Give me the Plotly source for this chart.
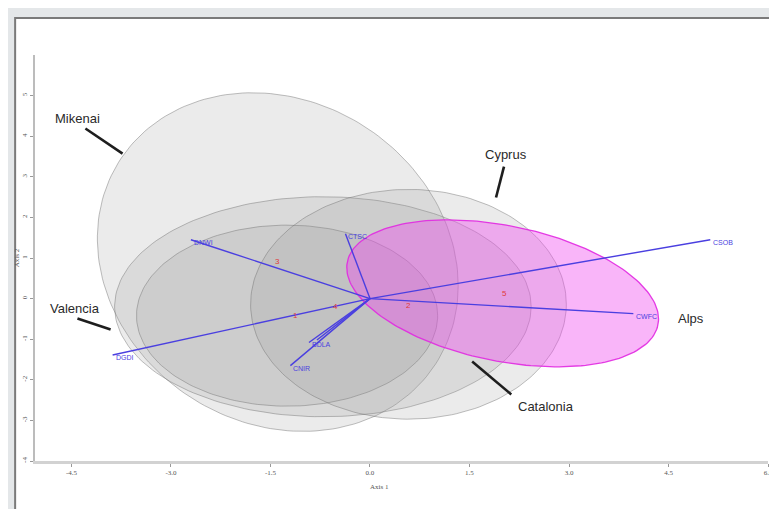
import numpy as np
import plotly.graph_objects as go

# ---------------- data ----------------
# group confidence ellipses: centre, spread (x, y) and correlation
groups = ["Mikenai", "Catalonia", "Valencia", "Cyprus", "Alps"]
ell_cx = [-1.39, -0.71, -1.25, 0.58, 2.00]
ell_cy = [0.90, -0.20, -0.42, -0.14, 0.13]
ell_sx = [2.72, 3.14, 2.27, 2.38, 2.35]
ell_sy = [4.17, 2.71, 2.23, 2.83, 1.81]
ell_rho = [-0.14, 0.0, 0.0, 0.0, -0.35]

# variable loading vectors (biplot)
var_names = ["DNWI", "CTSC", "CSOB", "CWFC", "DGDI", "BDLA", "", "CNIR"]
var_x = [-2.70, -0.37, 5.13, 3.97, -3.88, -0.92, -0.80, -1.20]
var_y = [1.45, 1.60, 1.45, -0.37, -1.39, -1.08, -1.02, -1.65]

# group centroids (red numbers)
cent_lab = ["3", "1", "4", "2", "5"]
cent_x = [-1.39, -1.12, -0.52, 0.58, 2.03]
cent_y = [0.91, -0.42, -0.20, -0.16, 0.13]

# group name callouts: text position, leader line start and end
lab_text = ["Mikenai", "Cyprus", "Valencia", "Alps", "Catalonia"]
lab_x = [-4.41, 2.05, -4.44, 4.84, 2.65]
lab_y = [4.43, 3.55, -0.25, -0.49, -2.66]
lead_x0 = [-4.29, 2.02, -4.41, None, 2.13]
lead_y0 = [4.19, 3.25, -0.49, None, -2.36]
lead_x1 = [-3.73, 1.90, -3.91, None, 1.54]
lead_y1 = [3.57, 2.49, -0.76, None, -1.55]

xticks = [-4.5, -3.0, -1.5, 0.0, 1.5, 3.0, 4.5, 6.0]
xtick_text = ["-4.5", "-3.0", "-1.5", "0.0", "1.5", "3.0", "4.5", "6.0"]
yticks = [-4, -3, -2, -1, 0, 1, 2, 3, 4, 5]
ytick_text = [str(v) for v in yticks]

# ---------------- figure ----------------
fig = go.Figure()
t = np.linspace(0, 2 * np.pi, 200)
for i, g in enumerate(groups):
    r = ell_rho[i]
    ex = ell_cx[i] + ell_sx[i] * np.cos(t)
    ey = ell_cy[i] + ell_sy[i] * (r * np.cos(t) + np.sqrt(1 - r * r) * np.sin(t))
    if g == "Alps":
        fill, line, lw = "rgba(240,70,240,0.40)", "rgba(225,40,225,0.9)", 1.3
    else:
        fill, line, lw = "rgba(150,150,150,0.19)", "rgba(110,110,110,0.45)", 1
    fig.add_trace(go.Scatter(x=ex, y=ey, mode="lines", fill="toself",
                             fillcolor=fill, line=dict(color=line, width=lw),
                             hoverinfo="skip", showlegend=False))

for i, n in enumerate(var_names):
    fig.add_trace(go.Scatter(x=[0, var_x[i]], y=[0, var_y[i]], mode="lines",
                             line=dict(color="#4a3fe0", width=1.4),
                             hoverinfo="skip", showlegend=False))
    if n:
        fig.add_annotation(x=var_x[i], y=var_y[i], text=n, showarrow=False,
                           xanchor="left", yanchor="top", xshift=1, yshift=3,
                           font=dict(family="Liberation Sans", size=7, color="#4a3fe0"))

for i, c in enumerate(cent_lab):
    fig.add_annotation(x=cent_x[i], y=cent_y[i], text=c, showarrow=False,
                       font=dict(family="Liberation Sans", size=8, color="#e03a3a"))

for i, s in enumerate(lab_text):
    fig.add_annotation(x=lab_x[i], y=lab_y[i], text=s, showarrow=False,
                       font=dict(family="Liberation Sans", size=13, color="#2a2a2a"))
    if lead_x0[i] is not None:
        fig.add_trace(go.Scatter(x=[lead_x0[i], lead_x1[i]], y=[lead_y0[i], lead_y1[i]],
                                 mode="lines", line=dict(color="#1e1e1e", width=2.6),
                                 hoverinfo="skip", showlegend=False))

# axis titles
fig.add_annotation(xref="paper", yref="paper", x=0.47, y=-0.05, text="Axis 1",
                   showarrow=False, yanchor="top",
                   font=dict(family="Liberation Serif", size=7, color="#555"))
fig.add_annotation(xref="paper", yref="paper", x=-0.016, y=0.5, text="Axis 2",
                   showarrow=False, textangle=-90, xanchor="right",
                   font=dict(family="Liberation Serif", size=7, color="#555"))

# white panel with border on grey page
fig.add_shape(type="rect", xref="paper", yref="paper", layer="below",
              x0=-0.0271, x1=1.03, y0=-0.16, y1=1.091,
              fillcolor="white", line=dict(color="#7a7a7a", width=2))

fig.update_layout(
    width=777, height=509,
    margin=dict(l=27, r=12, t=47, b=56),
    paper_bgcolor="#e4e7e9", plot_bgcolor="rgba(0,0,0,0)",
    xaxis=dict(range=[-5.05, 6.0], tickvals=xticks, ticktext=xtick_text,
               showgrid=False, zeroline=False, showline=True,
               linecolor="#d2d2d2", linewidth=3, ticks="outside", ticklen=3,
               tickcolor="#999", tickfont=dict(family="Liberation Serif", size=7, color="#555")),
    yaxis=dict(range=[-4, 6], tickvals=yticks, ticktext=ytick_text,
               showgrid=False, zeroline=False, showline=True, tickangle=-90,
               linecolor="#bcbcbc", linewidth=1.5, ticks="outside", ticklen=3,
               tickcolor="#999", tickfont=dict(family="Liberation Serif", size=7, color="#555")),
)

fig.write_html("out.html")
